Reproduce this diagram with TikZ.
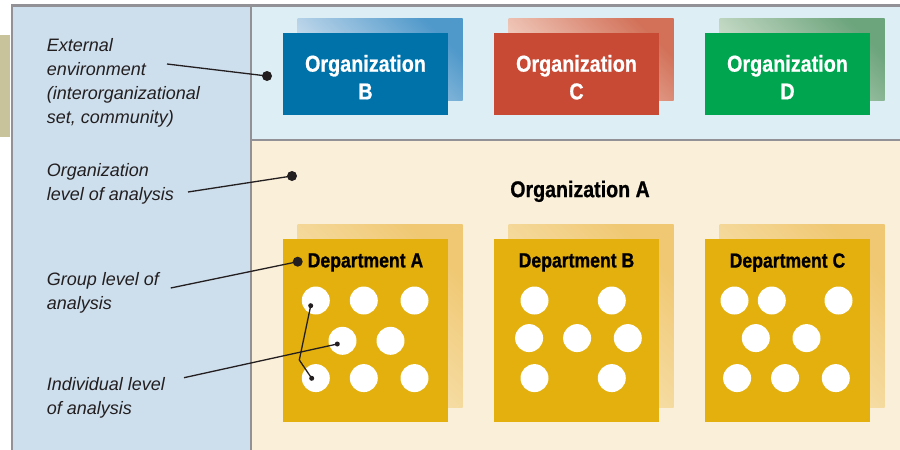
\documentclass[tikz,border=0pt]{standalone}
\usepackage{fontspec}
\setmainfont{Liberation Sans}
\newfontfamily\narrowbold[FakeStretch=0.86, FakeBold=0.8]{Liberation Sans Bold}
\usetikzlibrary{
  calc,
  positioning,
}
\definecolor{framegray}{RGB}{145,145,150}
\definecolor{envblue}{RGB}{205,222,236}
\definecolor{topblue}{RGB}{221,238,245}
\definecolor{orgcream}{RGB}{250,239,217}
\definecolor{tabtan}{RGB}{200,195,155}
\definecolor{inkblack}{RGB}{35,31,32}
\definecolor{orgBblue}{RGB}{0,114,170}
\definecolor{orgCred}{RGB}{200,74,52}
\definecolor{orgDgreen}{RGB}{0,165,80}
\definecolor{deptgold}{RGB}{228,176,14}
\definecolor{paleB}{RGB}{218,230,242}
\definecolor{deepB}{RGB}{78,152,202}
\definecolor{paleC}{RGB}{246,220,208}
\definecolor{deepC}{RGB}{210,112,88}
\definecolor{paleD}{RGB}{218,230,214}
\definecolor{deepD}{RGB}{108,164,124}
\definecolor{paleDept}{RGB}{249,234,196}
\definecolor{deepDept}{RGB}{240,200,115}

\tikzstyle{panel} = [draw=framegray, line width=2.2pt]
\tikzstyle{orgbox} = [rectangle, inner sep=0, minimum width=165, minimum height=82]
\tikzstyle{deptbox} = [rectangle, inner sep=0, minimum width=165, minimum height=183]
\tikzstyle{orgtitle} = [
  inner sep=0,
  align=center,
  text=white,
  font=\narrowbold\fontsize{23}{27.7}\selectfont,
]
\tikzstyle{depttitle} = [
  inner sep=0,
  text=black,
  font=\narrowbold\fontsize{20.5}{24}\selectfont,
]
\tikzstyle{levellabel} = [
  inner sep=0,
  anchor=north west,
  align=left,
  text=inkblack,
  font=\itshape\fontsize{18}{24}\selectfont,
]
\tikzstyle{leader} = [line width=1.3pt, inkblack]

\begin{document}
\begin{tikzpicture}[x=1pt, y=-1pt, node distance=0mm and 0mm]
  \useasboundingbox (0,0) rectangle (900,450);

  % panels
  \fill[tabtan] (0,35) rectangle (10,137);
  \draw[panel, fill=envblue] (11.7,5.5) rectangle (251,460);
  \draw[panel, fill=topblue] (251,5.5) rectangle (910,139.7);
  \draw[panel, fill=orgcream] (251,139.7) rectangle (910,460);

  % external organizations
  \foreach \org/\cx/\front in {B/365.5/orgBblue, C/576.5/orgCred, D/787.5/orgDgreen}{
    \node[orgbox, top color=deep\org, bottom color=pale\org, shading angle=-45] (shade\org) at (\cx+14.5,59.5) {};
    \node[orgbox, fill=\front] (org\org) at (\cx,74) {};
    \node[orgtitle, below=22pt of org\org.north] (title\org) {Organization\\\org};
  }

  \node[inner sep=0, text=black, font=\narrowbold\fontsize{22.8}{26}\selectfont] (orgA) at (580,191.3) {Organization A};

  % departments
  \foreach \dept/\cx in {A/365.5, B/576.5, C/787.5}{
    \node[deptbox, top color=deepDept, bottom color=paleDept, shading angle=-45] (deptshade\dept) at (\cx+14.5,316) {};
    \node[deptbox, fill=deptgold] (dept\dept) at (\cx,330.5) {};
    \node[depttitle, below=14.3pt of dept\dept.north] (depttitle\dept) {Department \dept};
  }

  % members
  \foreach \mx/\my in {33/61.7, 81/61.7, 131.7/61.7, 59.7/102, 107.7/102, 33/139.3, 81/139.3, 131.7/139.3}
    \fill[white] ($(deptA.north west)+(\mx,\my)$) circle (14);
  \foreach \mx/\my in {40.7/61.7, 118/61.7, 35.3/99.3, 83.3/99.3, 134/99.3, 40.7/139.3, 118/139.3}
    \fill[white] ($(deptB.north west)+(\mx,\my)$) circle (14);
  \foreach \mx/\my in {29.7/61.7, 67/61.7, 133.7/61.7, 51/99.3, 101.7/99.3, 32.3/139.3, 80.3/139.3, 131/139.3}
    \fill[white] ($(deptC.north west)+(\mx,\my)$) circle (14);

  % levels of analysis
  \node[levellabel] (lblext) at (46.7,38.7) {External\\environment\\(interorganizational\\set, community)};
  \node[levellabel] (lblorg) at (46.7,163.7) {Organization\\level of analysis};
  \node[levellabel] (lblgroup) at (46.7,272) {Group level of\\analysis};
  \node[levellabel] (lblindiv) at (46.7,377) {Individual level\\of analysis};

  \coordinate (extfrom) at (167,64);
  \coordinate (extdot) at (267,76);
  \coordinate (orgfrom) at (188,192);
  \coordinate (orgdot) at (292,176);
  \coordinate (groupfrom) at (170.7,288);
  \coordinate (groupdot) at (297.7,261.7);
  \coordinate (indivfrom) at (184,377.7);
  \coordinate (indivdot) at (337.3,344);
  \coordinate (memtop) at (310.7,305.7);
  \coordinate (membend) at (299.3,360);
  \coordinate (membottom) at (311.7,378.3);

  \draw[leader] (extfrom) -- (extdot);
  \draw[leader] (orgfrom) -- (orgdot);
  \draw[leader] (groupfrom) -- (groupdot);
  \draw[leader] (indivfrom) -- (indivdot);
  \draw[leader] (memtop) -- (membend) -- (membottom);
  \foreach \pt in {extdot, orgdot, groupdot}
    \fill[inkblack] (\pt) circle (5);
  \foreach \pt in {indivdot, memtop, membottom}
    \fill[inkblack] (\pt) circle (2.5);

\end{tikzpicture}
\end{document}
